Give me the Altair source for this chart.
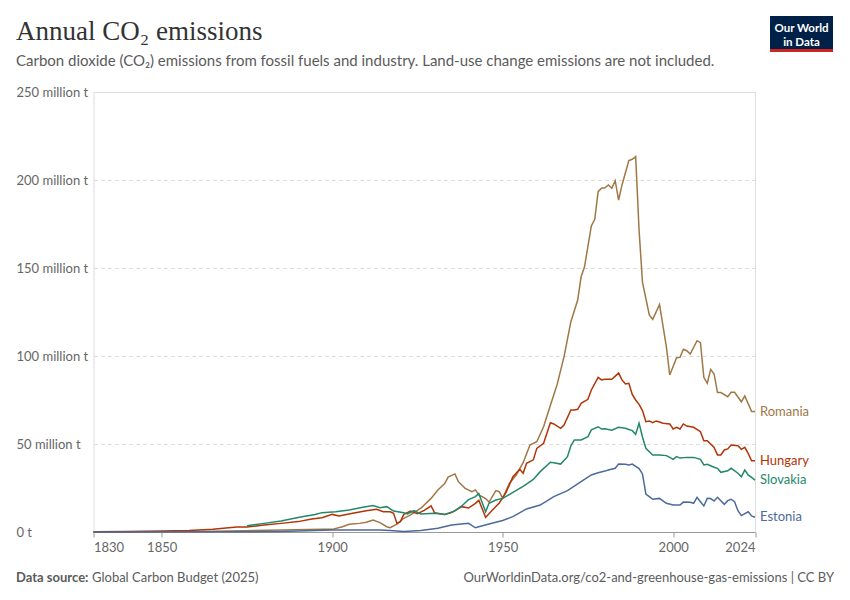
import altair as alt
import pandas as pd

# ---- data (million tonnes CO2) ----
countries = ["Romania", "Hungary", "Slovakia", "Estonia"]
colors = ["#a07745", "#b13507", "#23886a", "#4c6a9c"]

hungary_years = [1830, 1840, 1850, 1858, 1865, 1872, 1875, 1880, 1885, 1890, 1894, 1897, 1900, 1902,
                 1906, 1910, 1913, 1915, 1917, 1918, 1919, 1920, 1921, 1923, 1925, 1927, 1929, 1930,
                 1933, 1935, 1938, 1940, 1942, 1943, 1945, 1947, 1949, 1951, 1953, 1955, 1956, 1957,
                 1959, 1960, 1962, 1964, 1965, 1967, 1968, 1970, 1971, 1972, 1973, 1975, 1976, 1978,
                 1979, 1980, 1982, 1984, 1985, 1986, 1987, 1988, 1989, 1990, 1991, 1992, 1993, 1994,
                 1995, 1996, 1997, 1999, 2000, 2001, 2002, 2003, 2004, 2006, 2008, 2009, 2010, 2012,
                 2013, 2014, 2015, 2016, 2017, 2019, 2020, 2021, 2022, 2023, 2024]
hungary_values = [0.2, 0.3, 0.5, 0.8, 1.5, 2.8, 2.8, 4.0, 4.9, 5.9, 7.4, 8.1, 10.0, 9.1,
                  10.6, 12.1, 12.9, 11.5, 11.5, 10.6, 4.9, 5.9, 10.0, 11.9, 10.4, 12.3, 14.8, 11.0,
                  9.9, 11.0, 14.4, 13.6, 16.3, 18.0, 8.3, 12.5, 16.5, 22.5, 31.4, 35.6, 33.4, 39.0,
                  41.0, 47.5, 50.4, 62.1, 61.4, 58.9, 60.8, 69.3, 69.3, 69.7, 73.1, 75.4, 80.7, 87.9,
                  86.4, 86.8, 86.8, 90.3, 86.4, 84.1, 84.5, 78.2, 75.0, 72.5, 69.0, 62.7, 63.1, 62.1,
                  63.1, 62.5, 61.8, 61.4, 58.5, 59.5, 58.5, 61.4, 60.2, 59.5, 57.0, 51.9, 51.9, 48.1,
                  43.8, 43.8, 46.6, 47.2, 49.4, 49.0, 47.0, 48.1, 44.7, 40.5, 40.5]

slovakia_years = [1875, 1880, 1885, 1890, 1895, 1897, 1901, 1905, 1909, 1912, 1914, 1916, 1918, 1921,
                  1922, 1924, 1926, 1930, 1933, 1936, 1938, 1940, 1942, 1943, 1945, 1946, 1948, 1950,
                  1953, 1956, 1959, 1961, 1964, 1965, 1967, 1969, 1970, 1971, 1973, 1975, 1976, 1978,
                  1979, 1980, 1982, 1984, 1986, 1987, 1988, 1989, 1990, 1991, 1992, 1994, 1996, 1998,
                  1999, 2000, 2001, 2002, 2004, 2006, 2008, 2009, 2010, 2012, 2013, 2014, 2016, 2017,
                  2019, 2020, 2021, 2022, 2023, 2024]
slovakia_values = [3.6, 4.9, 6.3, 8.3, 10.0, 11.0, 11.5, 12.5, 14.0, 15.0, 13.8, 14.4, 11.9, 11.0,
                   10.2, 12.1, 10.2, 10.6, 10.0, 12.0, 14.8, 18.4, 20.1, 21.8, 11.5, 16.3, 18.2, 19.1,
                   22.5, 25.9, 29.9, 34.3, 39.6, 39.4, 38.6, 42.8, 49.0, 52.3, 52.3, 54.1, 58.0, 59.8,
                   58.5, 58.6, 57.8, 59.5, 58.9, 58.2, 57.6, 55.5, 61.8, 54.0, 47.6, 43.8, 43.8, 43.4,
                   42.4, 41.3, 42.8, 42.0, 42.4, 42.4, 41.3, 38.1, 38.5, 36.8, 36.2, 33.9, 34.8, 36.2,
                   33.4, 31.4, 35.2, 32.4, 31.0, 29.5]

estonia_years = [1830, 1870, 1885, 1900, 1910, 1914, 1917, 1921, 1926, 1931, 1935, 1940, 1942, 1943,
                 1946, 1950, 1953, 1957, 1961, 1965, 1969, 1973, 1976, 1978, 1980, 1981, 1983, 1984,
                 1986, 1987, 1988, 1990, 1991, 1992, 1993, 1994, 1996, 1998, 2000, 2002, 2003, 2005,
                 2006, 2007, 2008, 2009, 2010, 2011, 2012, 2013, 2015, 2016, 2017, 2018, 2019, 2020,
                 2022, 2023, 2024]
estonia_values = [0.0, 0.1, 0.3, 1.1, 1.1, 1.1, 0.8, 0.3, 0.8, 2.1, 4.0, 4.9, 2.4, 3.0,
                  4.5, 6.5, 8.7, 13.1, 15.3, 20.1, 23.5, 28.6, 32.4, 33.7, 34.6, 35.2, 36.2, 38.6,
                  38.5, 38.1, 38.6, 36.0, 33.0, 21.5, 20.1, 18.6, 19.1, 16.3, 15.3, 15.3, 17.0, 16.9,
                  16.3, 19.7, 17.2, 14.8, 19.1, 19.0, 17.6, 19.7, 15.7, 17.8, 18.6, 17.2, 12.1, 9.3,
                  11.5, 9.1, 8.4]

romania_years = [1830, 1850, 1855, 1870, 1885, 1897, 1900, 1903, 1905, 1908, 1910, 1912, 1914, 1916,
                 1917, 1919, 1921, 1923, 1926, 1929, 1931, 1933, 1934, 1936, 1937, 1939, 1941, 1942,
                 1943, 1945, 1946, 1948, 1949, 1950, 1952, 1954, 1956, 1958, 1960, 1962, 1964, 1965,
                 1966, 1968, 1970, 1972, 1973, 1974, 1976, 1977, 1978, 1979, 1980, 1981, 1982, 1983,
                 1984, 1985, 1987, 1988, 1989, 1990, 1991, 1993, 1994, 1996, 1998, 1999, 2001, 2002,
                 2003, 2004, 2005, 2007, 2008, 2009, 2010, 2011, 2012, 2013, 2014, 2016, 2017, 2018,
                 2020, 2021, 2023, 2024]
romania_values = [0.0, 0.1, 0.2, 0.6, 1.1, 1.5, 1.5, 3.0, 4.4, 4.9, 5.5, 6.8, 5.3, 3.0,
                  2.4, 4.5, 7.8, 9.7, 13.5, 19.1, 23.9, 27.5, 31.2, 33.0, 28.6, 24.8, 22.9, 23.9,
                  21.0, 19.0, 17.0, 23.5, 22.9, 19.1, 27.7, 32.4, 39.4, 49.4, 51.3, 59.8, 72.0, 78.0,
                  84.0, 99.6, 119.5, 131.8, 145.0, 150.7, 173.9, 177.7, 193.4, 195.3, 195.6, 197.2, 195.3, 199.6,
                  188.6, 197.2, 211.0, 211.8, 213.3, 171.6, 142.0, 123.3, 120.8, 129.2, 105.3, 89.2, 99.0, 99.2,
                  103.8, 103.0, 101.1, 108.7, 107.6, 87.9, 84.5, 92.4, 89.8, 79.2, 79.2, 76.9, 79.4, 79.4,
                  74.0, 77.3, 68.4, 68.4]

y_ticks = [0, 50, 100, 150, 200, 250]
x_ticks = [1830, 1850, 1900, 1950, 2000, 2024]

series = {
    "Romania": (romania_years, romania_values),
    "Hungary": (hungary_years, hungary_values),
    "Slovakia": (slovakia_years, slovakia_values),
    "Estonia": (estonia_years, estonia_values),
}
rows = []
for name, (ys, vs) in series.items():
    for yr, v in zip(ys, vs):
        rows.append({"country": name, "year": yr, "value": v})
df = pd.DataFrame(rows)
last = df.sort_values("year").groupby("country").tail(1)

# ---- layout helpers (page px -> plot-relative px) ----
OX, OY = 93.5, 92.0
W, H = 661.5, 440.0


def px(x):
    return x - OX


def py(y):
    return y - OY


color = alt.Color("country:N", scale=alt.Scale(domain=countries, range=colors), legend=None)
xenc = alt.X("year:Q",
             scale=alt.Scale(domain=[1830, 2024], nice=False, zero=False),
             axis=alt.Axis(values=x_ticks, format="d", labelFlush=True, grid=False,
                           tickSize=5, tickColor="#999999", domainColor="#999999",
                           labelColor="#666666", labelFont="Lato", labelFontSize=13,
                           labelPadding=4, title=None))
yenc = alt.Y("value:Q",
             scale=alt.Scale(domain=[0, 250], nice=False),
             axis=alt.Axis(values=y_ticks,
                           labelExpr="datum.value == 0 ? '0 t' : datum.value + ' million t'",
                           grid=True, gridDash=[4, 3], gridColor="#dddddd",
                           domain=False, ticks=False, tickSize=0,
                           labelAlign="left", labelBaseline="middle", labelPadding=77.5,
                           labelColor="#666666", labelFont="Lato", labelFontSize=13,
                           title=None))

lines = alt.Chart(df).mark_line(strokeWidth=1.5).encode(
    x=xenc, y=yenc, color=color, detail="country:N")

labels = alt.Chart(last).mark_text(align="left", baseline="middle", dx=5,
                                   font="Lato", fontSize=13).encode(
    x="year:Q", y="value:Q", text="country:N", color=color)

one = alt.Data(values=[{"a": 1}])

title = alt.Chart(one).mark_text(
    text="Annual CO\u2082 emissions", align="left", baseline="alphabetic",
    font="Liberation Serif", fontSize=27, color="#333333").encode(
    x=alt.value(px(16)), y=alt.value(py(40)))

subtitle = alt.Chart(one).mark_text(
    text="Carbon dioxide (CO\u2082) emissions from fossil fuels and industry. Land-use change emissions are not included.",
    align="left", baseline="alphabetic", font="Lato", fontSize=15, color="#5b5b5b").encode(
    x=alt.value(px(16)), y=alt.value(py(66)))

foot1 = alt.Chart(one).mark_text(
    text="Data source:", align="left", baseline="alphabetic", font="Lato", fontSize=13,
    fontWeight="bold", color="#5b5b5b").encode(x=alt.value(px(16)), y=alt.value(py(582)))

foot2 = alt.Chart(one).mark_text(
    text="Global Carbon Budget (2025)", align="left", baseline="alphabetic", font="Lato",
    fontSize=13, color="#5b5b5b").encode(x=alt.value(px(92)), y=alt.value(py(582)))

foot3 = alt.Chart(one).mark_text(
    text="OurWorldinData.org/co2-and-greenhouse-gas-emissions | CC BY", align="right",
    baseline="alphabetic", font="Lato", fontSize=13, color="#5b5b5b").encode(
    x=alt.value(px(834)), y=alt.value(py(582)))

logo_box = alt.Chart(one).mark_rect(color="#002147").encode(
    x=alt.value(px(770)), x2=alt.value(px(833)), y=alt.value(py(16)), y2=alt.value(py(49)))
logo_bar = alt.Chart(one).mark_rect(color="#ce261e").encode(
    x=alt.value(px(770)), x2=alt.value(px(833)), y=alt.value(py(49)), y2=alt.value(py(52)))
logo_t1 = alt.Chart(one).mark_text(
    text="Our World", align="center", baseline="alphabetic", font="Lato", fontSize=11.5,
    fontWeight="bold", color="white").encode(x=alt.value(px(801.5)), y=alt.value(py(31.5)))
logo_t2 = alt.Chart(one).mark_text(
    text="in Data", align="center", baseline="alphabetic", font="Lato", fontSize=11.5,
    fontWeight="bold", color="white").encode(x=alt.value(px(801.5)), y=alt.value(py(45.5)))

chart = alt.layer(
    lines, labels, title, subtitle, foot1, foot2, foot3, logo_box, logo_bar, logo_t1, logo_t2
).properties(
    width=W, height=H,
    autosize=alt.AutoSizeParams(type="none"),
    padding={"left": OX - 8, "top": OY - 8, "right": 834 - OX - W, "bottom": 584 - OY - H},
).configure_view(stroke=None).configure(background="white")

chart.save("out.html", embed_options={"renderer": "svg", "actions": False})
